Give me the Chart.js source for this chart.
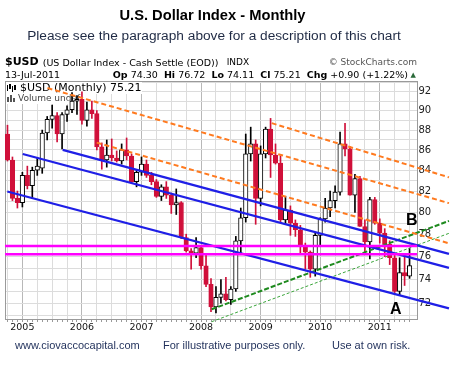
<!DOCTYPE html>
<html>
<head>
<meta charset="utf-8">
<title>U.S. Dollar Index - Monthly</title>
<script src="https://cdn.jsdelivr.net/npm/chart.js@4.4.1/dist/chart.umd.min.js"></script>
<style>
  html, body { margin: 0; padding: 0; background: #fff; }
  #wrap { position: relative; width: 451px; height: 365px; overflow: hidden; }
  #chart { position: absolute; left: 0; top: 0; }
  .t { position: absolute; white-space: nowrap; line-height: 1; }
  .dv { font-family: "DejaVu Sans", sans-serif; color: #000; }
  .ls { font-family: "Liberation Sans", Arial, sans-serif; }
  #title { left: 0; width: 425px; text-align: center; top: 8px; font-size: 14.7px; font-weight: bold; color: #000; }
  #subtitle { left: 0; width: 428px; text-align: center; top: 29px; font-size: 13.7px; color: #1f2a44; }
  #sym { left: 5px; top: 56.4px; font-size: 11px; font-weight: bold; }
  #name { left: 42.7px; top: 57.7px; font-size: 9.5px; }
  #exch { left: 226.7px; top: 58.1px; font-size: 9px; }
  #copy { right: 34px; top: 58.1px; font-size: 9px; color: #555; }
  #date { left: 5px; top: 70.3px; font-size: 9.5px; }
  #ohlc { right: 43px; top: 70.3px; font-size: 9.5px; }
  #arrow { left: 410.5px; top: 71.5px; font-size: 7px; color: #2a6a3a; }
  .foot { top: 339.7px; font-size: 11px; color: #1f2f5a; }
  .mark { font-size: 16px; font-weight: bold; color: #000; }
</style>
</head>
<body>
<div id="wrap">
  <canvas id="chart" width="451" height="365"></canvas>
  <div class="t ls" id="title">U.S. Dollar Index - Monthly</div>
  <div class="t ls" id="subtitle">Please see the paragraph above for a description of this chart</div>
  <div class="t dv" id="sym">$USD</div>
  <div class="t dv" id="name">(US Dollar Index - Cash Settle (EOD))</div>
  <div class="t dv" id="exch">INDX</div>
  <div class="t dv" id="copy">© StockCharts.com</div>
  <div class="t dv" id="date">13-Jul-2011</div>
  <div class="t dv" id="ohlc"><b>Op</b> 74.30 &nbsp;<b>Hi</b> 76.72 &nbsp;<b>Lo</b> 74.11 &nbsp;<b>Cl</b> 75.21 &nbsp;<b>Chg</b> +0.90 (+1.22%)</div>
  <div class="t dv" id="arrow">▲</div>
  <div class="t ls mark" style="left:406px; top:212px;">B</div>
  <div class="t ls mark" style="left:390px; top:301px;">A</div>
  <div class="t ls foot" style="left:15px;">www.ciovaccocapital.com</div>
  <div class="t ls foot" style="left:163px;">For illustrative purposes only.</div>
  <div class="t ls foot" style="left:332px;">Use at own risk.</div>
</div>
<script>
// monthly candles, Oct 2004 - Jul 2011
const months = [
  '2004-10','2004-11','2004-12',
  '2005-01','2005-02','2005-03','2005-04','2005-05','2005-06','2005-07','2005-08','2005-09','2005-10','2005-11','2005-12',
  '2006-01','2006-02','2006-03','2006-04','2006-05','2006-06','2006-07','2006-08','2006-09','2006-10','2006-11','2006-12',
  '2007-01','2007-02','2007-03','2007-04','2007-05','2007-06','2007-07','2007-08','2007-09','2007-10','2007-11','2007-12',
  '2008-01','2008-02','2008-03','2008-04','2008-05','2008-06','2008-07','2008-08','2008-09','2008-10','2008-11','2008-12',
  '2009-01','2009-02','2009-03','2009-04','2009-05','2009-06','2009-07','2009-08','2009-09','2009-10','2009-11','2009-12',
  '2010-01','2010-02','2010-03','2010-04','2010-05','2010-06','2010-07','2010-08','2010-09','2010-10','2010-11','2010-12',
  '2011-01','2011-02','2011-03','2011-04','2011-05','2011-06','2011-07'
];

const opens = [
  87.6, 85.0, 81.3, 80.9, 83.5, 82.5, 84.0, 84.2, 87.7, 89.1,
  89.5, 87.6, 89.6, 90.1, 91.0, 91.2, 89.0, 90.1, 89.7, 86.3,
  85.0, 85.5, 85.2, 84.9, 86.0, 85.4, 82.9, 83.8, 84.6, 83.5,
  82.9, 81.5, 82.4, 81.6, 80.7, 80.9, 77.7, 76.5, 76.3, 76.8,
  75.2, 73.6, 71.7, 72.5, 72.8, 72.3, 73.2, 77.4, 79.5, 85.6,
  86.6, 81.3, 85.6, 88.1, 85.5, 84.7, 79.3, 80.2, 79.0, 78.4,
  77.0, 76.4, 74.9, 77.9, 79.4, 80.4, 81.1, 81.9, 86.6, 86.1,
  81.6, 83.2, 78.7, 77.3, 81.2, 79.0, 78.1, 77.1, 75.9, 73.0,
  74.6, 74.30
];
const highs = [
  88.5, 85.3, 82.0, 83.8, 84.4, 84.3, 85.2, 88.0, 89.4, 90.6,
  89.8, 89.8, 90.5, 91.9, 91.6, 92.0, 90.9, 91.0, 90.0, 86.7,
  87.0, 87.1, 85.9, 86.6, 87.2, 85.6, 84.0, 85.3, 85.0, 83.8,
  83.1, 82.6, 82.9, 81.8, 82.2, 81.0, 78.0, 76.7, 77.7, 77.0,
  76.2, 74.1, 73.4, 74.0, 74.2, 73.4, 77.8, 80.4, 87.6, 88.3,
  87.0, 86.4, 88.3, 89.2, 86.6, 85.4, 81.5, 80.6, 79.3, 78.8,
  77.2, 76.5, 78.1, 79.5, 81.3, 82.0, 82.5, 87.8, 88.7, 86.3,
  83.6, 83.4, 79.3, 81.4, 81.4, 79.4, 78.5, 77.4, 76.3, 75.9,
  76.0, 76.72
];
const lows = [
  84.9, 81.1, 80.4, 80.5, 82.2, 81.3, 83.5, 83.7, 87.0, 88.2,
  86.8, 86.1, 88.9, 89.8, 89.6, 88.6, 88.4, 89.2, 86.0, 84.1,
  84.3, 84.9, 84.8, 84.6, 85.0, 82.8, 82.4, 83.5, 83.3, 82.6,
  81.4, 81.1, 81.3, 79.9, 79.8, 77.6, 76.4, 74.9, 75.9, 74.9,
  73.4, 71.3, 71.2, 72.0, 72.2, 71.9, 73.0, 76.2, 79.1, 84.9,
  78.9, 80.6, 85.2, 83.3, 84.6, 79.1, 78.9, 77.9, 77.8, 76.2,
  74.9, 74.2, 74.3, 76.9, 79.1, 79.6, 80.4, 81.6, 85.4, 81.6,
  80.0, 78.7, 76.2, 75.8, 78.9, 77.2, 76.0, 75.3, 72.9, 72.7,
  73.5, 74.11
];
const closes = [
  85.0, 81.3, 80.9, 83.5, 82.5, 84.0, 84.4, 87.7, 89.1, 89.5,
  87.6, 89.6, 90.1, 91.0, 91.2, 89.0, 90.1, 89.7, 86.3, 85.0,
  85.5, 85.2, 84.9, 86.0, 85.4, 82.9, 83.8, 84.6, 83.5, 82.9,
  81.5, 82.4, 81.6, 80.7, 80.9, 77.7, 76.5, 76.3, 76.8, 75.2,
  73.6, 71.7, 72.5, 72.8, 72.3, 73.2, 77.4, 79.5, 85.6, 86.6,
  81.3, 85.6, 88.1, 85.5, 84.7, 79.3, 80.2, 79.0, 78.4, 77.0,
  76.4, 74.9, 77.9, 79.4, 80.4, 81.1, 81.9, 86.6, 86.1, 81.6,
  83.2, 78.7, 77.3, 81.2, 79.0, 78.1, 77.1, 75.9, 73.0, 74.6,
  74.31, 75.21
];

// right axis: grid every point, label every other one
const priceTicks = [71, 72, 73, 74, 75, 76, 77, 78, 79, 80, 81, 82, 83, 84, 85, 86, 87, 88, 89, 90, 91, 92, 93];

// drawn trend lines: [month index, price] pairs
const blueLines = [
  [[-0.04, 81.95], [88.94, 71.58]],
  [[3.07, 85.6], [88.94, 75.01]],
  [[11.12, 86.0], [88.94, 76.24]]
];
const orangeLines = [
  [[8.06, 92.39], [88.94, 80.86]],
  [[17.97, 86.73], [88.94, 77.18]],
  [[53.23, 88.71], [88.94, 83.31]]
];
const greenThick = [[41.14, 71.50], [88.94, 79.21]];
const greenThin = [[41.14, 70.48], [88.94, 78.08]];
const levels = [76.94, 76.21];

const RED = '#d0103a';
const candleColor = closes.map((c, i) => c >= (i ? closes[i - 1] : opens[i]) ? '#000' : RED);
const bodyFill = closes.map((c, i) => c >= opens[i] ? '#fff' : candleColor[i]);

function trend(pts, color, width, dash) {
  return {
    type: 'line',
    data: pts.map(p => ({ x: p[0], y: p[1] })),
    borderColor: color,
    borderWidth: width,
    borderDash: dash || [],
    pointRadius: 0,
    fill: false,
    tension: 0,
    clip: false,
    order: 0
  };
}

const lineSets = [];
levels.forEach(v => lineSets.push(trend([[-0.5, v], [82.5, v]], '#ff00ff', 2.5)));
blueLines.forEach(l => lineSets.push(trend(l, '#1f1fe6', 2.2)));
orangeLines.forEach(l => lineSets.push(trend(l, '#ff7a1f', 2, [5, 3])));
lineSets.push(trend(greenThick, '#1e8a1e', 2, [5, 2]));
lineSets.push(trend(greenThin, '#3aa53a', 1, [3, 2]));

// plot frame plus the little in-chart legend
const frame = {
  id: 'frame',
  beforeDatasetsDraw(chart) {
    const { ctx, chartArea: a } = chart;
    ctx.save();
    ctx.strokeStyle = '#9a9a9a';
    ctx.lineWidth = 1;
    ctx.strokeRect(a.left + 0.5, a.top + 0.5, a.right - a.left, a.bottom - a.top);
    ctx.fillStyle = '#fff';
    ctx.fillRect(a.left + 1, a.top + 1, 136, 12);
    ctx.fillRect(a.left + 1, a.top + 13, 78, 10);
    // candle icon
    ctx.fillStyle = '#000';
    ctx.fillRect(a.left + 2, a.top + 4, 1, 6);
    ctx.fillRect(a.left + 4, a.top + 3, 2, 5);
    ctx.fillRect(a.left + 7, a.top + 5, 1, 6);
    ctx.fillRect(a.left + 9, a.top + 4, 2, 5);
    // volume icon
    ctx.fillStyle = '#555';
    ctx.fillRect(a.left + 2, a.top + 16, 2, 5);
    ctx.fillRect(a.left + 5, a.top + 14, 2, 7);
    ctx.fillRect(a.left + 8, a.top + 17, 2, 4);
    ctx.textBaseline = 'middle';
    ctx.fillStyle = '#000';
    ctx.font = '11px "DejaVu Sans"';
    ctx.fillText('$USD (Monthly) ' + closes[closes.length - 1].toFixed(2), a.left + 15, a.top + 7.5);
    ctx.fillStyle = '#444';
    ctx.font = '9px "DejaVu Sans"';
    ctx.fillText('Volume undef', a.left + 13, a.top + 18);
    ctx.restore();
  }
};

new Chart(document.getElementById('chart'), {
  type: 'bar',
  data: {
    datasets: [
      ...lineSets,
      {
        data: months.map((m, i) => ({ x: i, y: [opens[i], closes[i]] })),
        backgroundColor: bodyFill,
        borderColor: candleColor,
        borderWidth: 1,
        borderSkipped: false,
        barThickness: 4.5,
        minBarLength: 1,
        grouped: false,
        order: 1
      },
      {
        data: months.map((m, i) => ({ x: i, y: [lows[i], highs[i]] })),
        backgroundColor: candleColor,
        borderWidth: 0,
        barThickness: 1,
        grouped: false,
        order: 2
      }
    ]
  },
  options: {
    responsive: false,
    animation: false,
    devicePixelRatio: 1,
    layout: { padding: { left: 5, top: 81, right: 0, bottom: 26 } },
    plugins: { legend: { display: false }, tooltip: { enabled: false } },
    scales: {
      x: {
        type: 'linear',
        min: -0.5,
        max: 82.5,
        offset: false,
        afterBuildTicks: s => { s.ticks = months.map((m, i) => ({ value: i })); },
        afterFit: s => { s.height = 20; },
        border: { display: false },
        grid: {
          offset: false,
          drawTicks: true,
          tickLength: 3,
          tickColor: '#9a9a9a',
          color: c => {
            const m = months[c.tick && c.tick.value];
            if (!m) return 'rgba(0,0,0,0)';
            const mo = +m.slice(5);
            if (mo === 1) return '#b8b8b8';
            return mo % 3 === 1 ? '#dcdcdc' : 'rgba(0,0,0,0)';
          }
        },
        ticks: {
          autoSkip: false,
          maxRotation: 0,
          minRotation: 0,
          padding: 0,
          color: '#111',
          font: { family: 'DejaVu Sans', size: 9.5 },
          callback: v => (months[v] && months[v].endsWith('-01')) ? months[v].slice(0, 4) : ''
        }
      },
      y: {
        type: 'logarithmic',
        position: 'right',
        min: 70.7,
        max: 93.15,
        afterBuildTicks: s => { s.ticks = priceTicks.map(v => ({ value: v })); },
        afterFit: s => { s.width = 34; },
        border: { display: false },
        grid: { color: '#dcdcdc', drawTicks: false },
        ticks: {
          autoSkip: false,
          padding: 1.5,
          color: '#222',
          font: { family: 'DejaVu Sans', size: 10 },
          callback: v => (v % 2 === 0 ? String(v) : '')
        }
      }
    }
  },
  plugins: [frame]
});
</script>
</body>
</html>
